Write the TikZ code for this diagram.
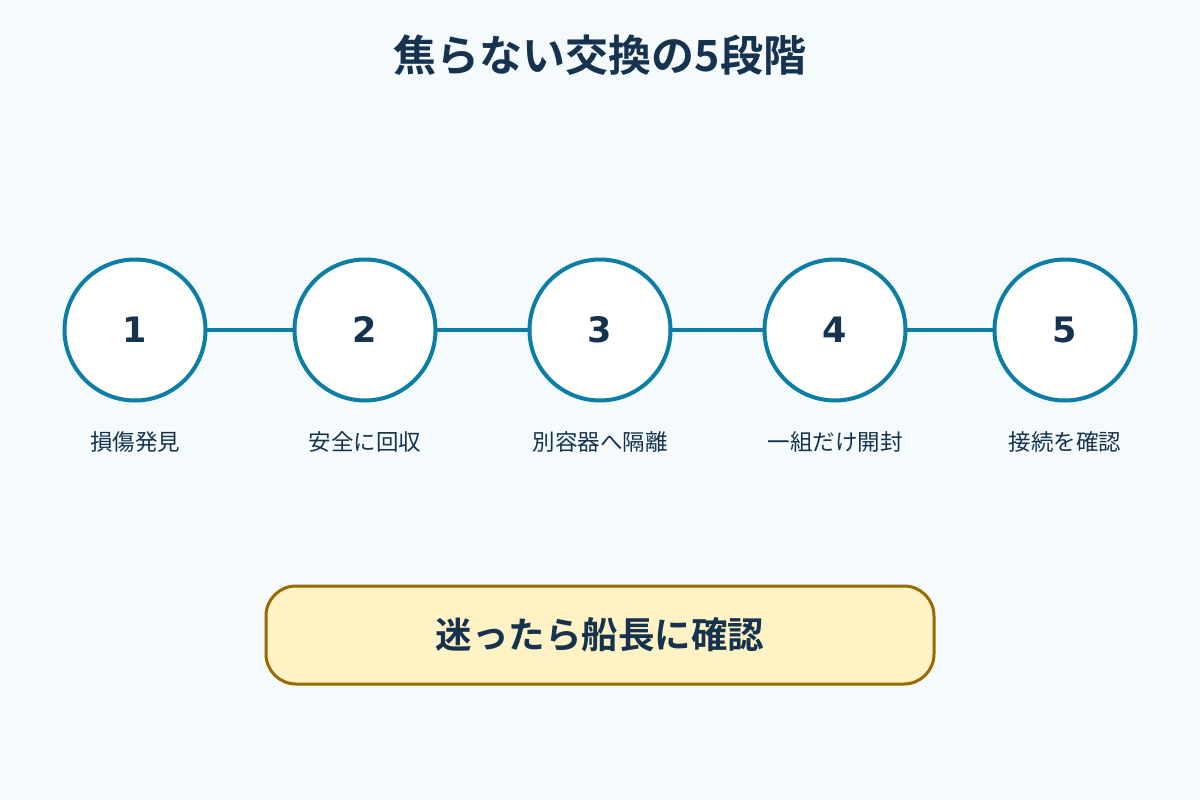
\documentclass[tikz,border=0pt]{standalone}
\usepackage{fontspec}
\setmainfont{DejaVu Sans}
\newfontfamily\jp{Noto Sans CJK JP}
\newfontfamily\jpb{Noto Sans CJK JP}[BoldFont={* Bold}]
\definecolor{bgc}{HTML}{F5FAFD}
\definecolor{ink}{HTML}{15334F}
\definecolor{ring}{HTML}{0A7EA4}
\definecolor{boxfill}{HTML}{FFF3C6}
\definecolor{boxline}{HTML}{9A6A00}
\begin{document}
\begin{tikzpicture}[x=1pt,y=-1pt,
  stepcircle/.style={circle,draw=ring,line width=4pt,fill=white,minimum size=141pt,inner sep=0pt,text=ink,font=\fontsize{35}{40}\selectfont\bfseries},
  steplabel/.style={text=ink,font=\jp\fontsize{22.5}{26}\selectfont},
  link/.style={draw=ring,line width=4pt}]
\fill[bgc] (0,0) rectangle (1200,800);
\useasboundingbox (0,0) rectangle (1200,800);
\node[text=ink,font=\jpb\fontsize{43}{50}\selectfont\bfseries] (title) at (600,55) {焦らない交換の5段階};
\foreach \i/\x/\t in {1/135/損傷発見,2/365/安全に回収,3/600/別容器へ隔離,4/835/一組だけ開封,5/1065/接続を確認}{
  \node[steplabel] (l\i) at (\x,442) {\t};
}
\foreach \i/\x in {1/135,2/365,3/600,4/835,5/1065}{
  \coordinate (c\i) at (\x,330);
}
\draw[link] (c1) -- (c2);
\draw[link] (c2) -- (c3);
\draw[link] (c3) -- (c4);
\draw[link] (c4) -- (c5);
\foreach \i in {1,...,5}{
  \node[stepcircle] (n\i) at (c\i) {\i};
}
\node[draw=boxline,line width=3pt,fill=boxfill,rounded corners=30pt,minimum width=668pt,minimum height=98pt,text=ink,font=\jpb\fontsize{36.5}{42}\selectfont\bfseries] (note) at (600,635) {迷ったら船長に確認};
\end{tikzpicture}
\end{document}
